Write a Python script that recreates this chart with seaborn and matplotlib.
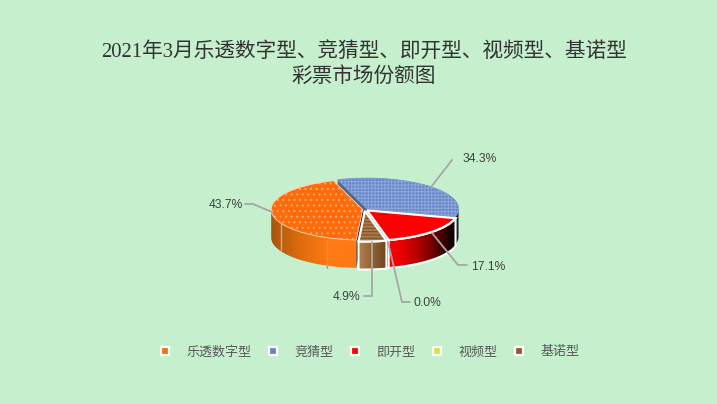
import numpy as np
import matplotlib
matplotlib.use("Agg")
import matplotlib.pyplot as plt
import seaborn as sns
from matplotlib.colors import LinearSegmentedColormap
from matplotlib.lines import Line2D
from matplotlib.patches import Polygon, Wedge

categories = ["乐透数字型", "竞猜型", "即开型", "视频型", "基诺型"]
shares = [43.7, 34.3, 17.1, 0.0, 4.9]
title_lines = ["2021年3月乐透数字型、竞猜型、即开型、视频型、基诺型", "彩票市场份额图"]

explode = [0.02, 0.04, 0.04, 0.02, 0.05]
top_colors = ["#FF6A0A", "#6485C4", "#FF0000", "#CDEB3C", "#A87848"]
hatch_colors = ["#FFA970", "#8BA6DC", "#FF0000", "#CDEB3C", "#7E5228"]
hatches = ["...", "+++++", None, None, "-----"]
side_colors = [
    ["#A8560A", "#DD6C0E", "#FF7A14", "#FF7A14"],
    ["#26344F", "#0E1420"],
    ["#FF0000", "#E00000", "#A00000", "#500000", "#000000"],
    ["#CDEB3C", "#CDEB3C"],
    ["#B08050", "#8F5F30", "#6E4620"],
]
cut_colors = ["#2A1A08", "#56677F", "#400000", "#CDEB3C", "#4A3015"]
legend_colors = ["#FF6D0D", "#6485C4", "#FF0000", "#CDEB3C", "#8F5A32"]

BG = "#C6EFCE"
W, H = 717, 404
CX, CY, RX, RY, DEPTH = 364.5, 209.5, 91.5, 30.5, 28

sns.set_theme(style="white")
plt.rcParams["font.family"] = ["Liberation Serif", "Noto Sans CJK SC"]
plt.rcParams["hatch.linewidth"] = 0.8

fig = plt.figure(figsize=(W / 100, H / 100), dpi=100, facecolor=BG)
ax = fig.add_axes([0, 0, 1, 1], facecolor=BG)

wedges, _ = ax.pie(shares, explode=explode, startangle=-94, counterclock=False,
                   colors=top_colors, radius=1, wedgeprops={"linewidth": 0, "zorder": 5})
ax.set_aspect("auto")
drop = DEPTH / RY


def rim(wedge, a0, a1):
    # visible outer rim of one slice, as a closed outline in data units
    t = np.radians(np.linspace(a0, a1, 60))
    x = wedge.center[0] + np.cos(t)
    y = wedge.center[1] + np.sin(t)
    return np.r_[x, x[::-1]], np.r_[y, y[::-1] - drop]


order = [1, 0, 2, 3, 4]
for z, i in enumerate(order):
    w = wedges[i]
    if shares[i] == 0:
        continue
    cx, cy = w.center
    for ang in (w.theta1, w.theta2):
        ex, ey = cx + np.cos(np.radians(ang)), cy + np.sin(np.radians(ang))
        ax.add_patch(Polygon([(cx, cy), (ex, ey), (ex, ey - drop), (cx, cy - drop)],
                             facecolor=cut_colors[i], edgecolor="none", zorder=1 + z * 0.1))
    # slice angles run 0..360; keep only the part of the rim below the centre line
    a0, a1 = w.theta1 % 360, w.theta2 % 360
    if a1 <= a0:
        a1 += 360
    lo, hi = max(a0, 180), min(a1, 360)
    if hi <= lo:
        continue
    xs, ys = rim(w, lo, hi)
    cmap = LinearSegmentedColormap.from_list(f"side{i}", side_colors[i])
    im = ax.imshow(np.linspace(0, 1, 200).reshape(1, -1), cmap=cmap, aspect="auto",
                   extent=(xs.min(), xs.max(), ys.min(), ys.max()), zorder=2 + z * 0.1)
    clip = Polygon(np.c_[xs, ys], transform=ax.transData, facecolor="none", edgecolor="none")
    ax.add_patch(clip)
    im.set_clip_path(clip)
    if i in (2, 4):
        ax.add_patch(Polygon(np.c_[xs, ys], facecolor="none", edgecolor="white", lw=1.5,
                             zorder=2.5 + z * 0.1))

for i, w in enumerate(wedges):
    if shares[i] == 0:
        continue
    if hatches[i]:
        w.set_hatch(hatches[i])
        w.set_edgecolor(hatch_colors[i])
    outline = "white" if i in (2, 4) else "#FFD9BD" if i == 0 else "#7F9AD0"
    ax.add_patch(Wedge(w.center, 1, w.theta1, w.theta2, fill=False, edgecolor=outline,
                       lw=1.6 if i in (2, 4) else 0.6, zorder=6 + i * 0.1))

ax.set_xlim(-CX / RX, (W - CX) / RX)
ax.set_ylim(-(H - CY) / RY, CY / RY)
ax.set_axis_off()


def fx(x):
    return x / W


def fy(y):
    return 1 - y / H


fig.text(fx(363.5), fy(52), title_lines[0], ha="center", va="center", fontsize=14.9, color="#333333")
fig.text(fx(363.5), fy(77), title_lines[1], ha="center", va="center", fontsize=14.9, color="#333333")

# pale seams on the orange side wall
for sx, sy0, sy1, sc in [(281, 223, 250, "#C9B09A"), (327, 240, 268, "#FF8A30")]:
    fig.add_artist(Line2D([fx(sx), fx(sx)], [fy(sy0), fy(sy1)], color=sc, lw=1, zorder=7))

# leader lines and their labels, in reference pixels
leaders = [
    ([245, 253, 272], [204, 204, 212], 209, 205),
    ([452, 431], [160, 187], 463, 159),
    ([432, 458, 467], [233, 265, 265], 471, 267),
    ([388, 402, 410], [242, 302, 302], 413, 303),
    ([364, 372, 372], [296, 296, 242], 333, 297),
]
for (lx, ly, tx, ty), val in zip(leaders, shares):
    fig.add_artist(Line2D([fx(v) for v in lx], [fy(v) for v in ly], color="#A6A6A6",
                          lw=1.3, zorder=8))
    fig.text(fx(tx), fy(ty), f"{val:.1f}%", ha="left", va="center", fontsize=8.7,
             color="#404040", family=["Liberation Sans", "Noto Sans CJK SC"], zorder=9)

handles = [Line2D([], [], ls="none", marker="s", ms=6, mew=1.6, mec="white", mfc=c)
           for c in legend_colors]
fig.legend(handles, categories, loc="center", bbox_to_anchor=(fx(369), fy(352)), ncol=5,
           frameon=False, handlelength=1.0, handletextpad=1.13, columnspacing=1.17,
           prop={"family": ["Noto Sans CJK SC", "DejaVu Sans"], "size": 9.4},
           labelcolor="#595959")

fig.savefig("out.png", dpi=100, facecolor=BG)
